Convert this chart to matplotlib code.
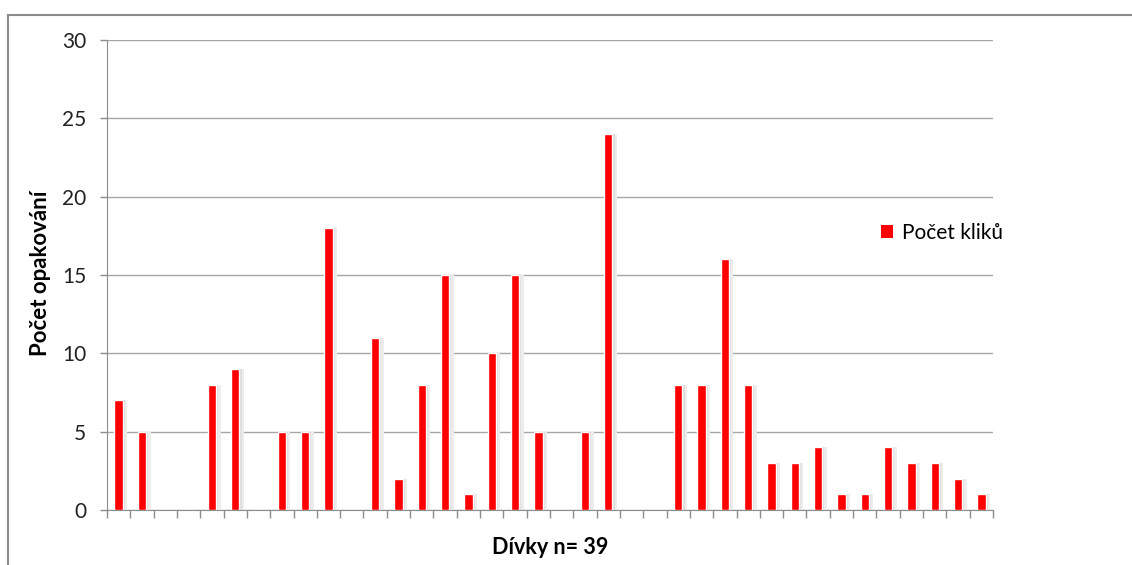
import matplotlib.pyplot as plt
from matplotlib.patches import Patch
from matplotlib.lines import Line2D
import numpy as np

plt.rcParams['font.family'] = ['Lato', 'DejaVu Sans']

# pocet kliku pro kazdou divku (prazdne = 0)
hodnoty = [7, 5, 0, 0, 8, 9, 0, 5, 5, 18, 0, 11, 2, 8, 15, 1, 10, 15, 5, 0,
           5, 24, 0, 0, 8, 8, 16, 8, 3, 3, 4, 1, 1, 4, 3, 3, 2, 1]
y_ticks = [0, 5, 10, 15, 20, 25, 30]
serie = 'Počet kliků'
x_label = 'Dívky n= 39'
y_label = 'Počet opakování'

x = np.arange(len(hodnoty))

fig = plt.figure(figsize=(11.32, 5.65), dpi=100)
ax = fig.add_axes([107/1132, 1 - 510/565, 886/1132, 470/565])

# outer chart frame (top + left)
fig.add_artist(Line2D([8/1132, 1], [1 - 15/565, 1 - 15/565], color='#8c8c8c', lw=1.5))
fig.add_artist(Line2D([8/1132, 8/1132], [0, 1 - 15/565], color='#8c8c8c', lw=1.5))

# soft shadow behind bars
ax.bar(x + 0.12, hodnoty, width=0.5, color='#ececec', zorder=2)
ax.bar(x + 0.06, hodnoty, width=0.42, color='#dcdcdc', zorder=2)
ax.bar(x, hodnoty, width=0.36, color='#ff0000', edgecolor='white', lw=1, zorder=3)

ax.set_xlim(-0.5, len(hodnoty) - 0.5)
ax.set_ylim(0, 30)
ax.set_yticks(y_ticks)
ax.yaxis.grid(True, color='#a6a6a6', lw=1)
ax.set_axisbelow(True)

ax.set_xticks(np.arange(len(hodnoty) + 1) - 0.5)
ax.set_xticklabels([])
ax.tick_params(axis='x', length=6, color='#8c8c8c', width=1, direction='out')
ax.tick_params(axis='y', length=5, color='#8c8c8c', width=1, labelsize=15,
               labelcolor='#222222', pad=10)

for s in ['top', 'right']:
    ax.spines[s].set_visible(False)
for s in ['left', 'bottom']:
    ax.spines[s].set_color('#8c8c8c')

fig.text(550/1132, 1 - 548/565, x_label, fontsize=15.5, fontweight='bold',
         ha='center', va='center')
fig.text(41/1132, 1 - 273/565, y_label, fontsize=16, fontweight='bold',
         ha='center', va='center', rotation=90)

handle = Patch(facecolor='#ff0000', edgecolor='none')
fig.legend([handle], [serie], loc='center left', bbox_to_anchor=(862/1132, 1 - 233/565),
           frameon=False, fontsize=15, handlelength=0.6, handleheight=0.6,
           handletextpad=0.4)

plt.savefig('out.png', dpi=100)
